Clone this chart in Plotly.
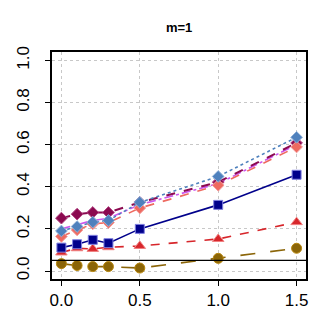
import plotly.graph_objects as go

x_vals = [0, 0.1, 0.2, 0.3, 0.5, 1.0, 1.5]

maroon = [0.251, 0.270, 0.278, 0.278, 0.326, 0.422, 0.608]
violet = [0.200, 0.220, 0.240, 0.250, 0.315, 0.415, 0.600]
salmon = [0.164, 0.195, 0.224, 0.230, 0.299, 0.407, 0.589]
steel = [0.190, 0.211, 0.232, 0.240, 0.326, 0.449, 0.635]
navy = [0.111, 0.127, 0.148, 0.132, 0.200, 0.314, 0.457]
red = [0.088, 0.108, 0.105, 0.113, 0.119, 0.152, 0.232]
olive = [0.035, 0.026, 0.021, 0.021, 0.014, 0.060, 0.108]

ref_level = 0.05
x_ticks = [0, 0.5, 1.0, 1.5]
x_tick_text = ["0.0", "0.5", "1.0", "1.5"]
y_ticks = [0, 0.2, 0.4, 0.6, 0.8, 1.0]
y_tick_text = ["0.0", "0.2", "0.4", "0.6", "0.8", "1.0"]

series = [
    ("olive", olive, "#8B6508", "#B8860B", "circle", 10, "longdash", "lines+markers", 1.6),
    ("red", red, "#D7262B", "#F08080", "triangle-up", 10, "dash", "lines+markers", 1.6),
    ("navy", navy, "#00008B", "#8080E0", "square", 9, "solid", "lines+markers", 1.6),
    ("violet", violet, "#CC55EE", "#DDA0FF", "diamond", 7, "dashdot", "lines", 1.6),
    ("maroon", maroon, "#8B0A50", "#B04080", "diamond", 9, "dash", "lines+markers", 2),
    ("salmon", salmon, "#EE6A60", "#F4A0A0", "diamond", 9, "dash", "lines+markers", 1.6),
    ("steel", steel, "#4F81BD", "#8FB0D8", "diamond", 9, "dot", "lines+markers", 1.6),
]

fig = go.Figure()
for name, ys, col, edge, sym, size, dash, mode, lw in series:
    fig.add_trace(go.Scatter(
        x=x_vals, y=ys, mode=mode, name=name,
        line=dict(color=col, width=lw, dash=dash),
        marker=dict(symbol=sym, size=size, color=col, line=dict(color=edge, width=1)),
        showlegend=False,
    ))

fig.add_shape(type="line", xref="paper", x0=0, x1=1, yref="y", y0=ref_level, y1=ref_level,
              line=dict(color="black", width=1.2))

axis_font = dict(family="Liberation Sans, Arial, sans-serif", size=17, color="black")

fig.update_xaxes(range=[-0.06, 1.56], tickvals=x_ticks, ticktext=x_tick_text,
                 showgrid=True, gridcolor="#C8C8C8", griddash="dot", gridwidth=1,
                 showline=True, linecolor="black", linewidth=1.5, mirror=True,
                 ticks="outside", ticklen=5, tickcolor="black", tickfont=axis_font,
                 ticklabelstandoff=0, zeroline=False, automargin=False)
fig.update_yaxes(range=[-0.038, 1.04], tickvals=y_ticks, ticktext=y_tick_text,
                 showgrid=True, gridcolor="#C8C8C8", griddash="dot", gridwidth=1,
                 showline=True, linecolor="black", linewidth=1.5, mirror=True,
                 ticks="outside", ticklen=5, tickcolor="black", tickfont=axis_font,
                 tickangle=-90, ticklabelstandoff=9, zeroline=False, automargin=False)

fig.update_layout(
    width=321, height=327,
    margin=dict(l=44, r=23, t=44, b=56),
    paper_bgcolor="white", plot_bgcolor="white",
    title=dict(text="<b>m=1</b>", x=0.533, xanchor="center", y=0.939, yanchor="middle",
               font=dict(family="Liberation Sans, Arial, sans-serif", size=13, color="black")),
)

fig.write_html("out.html")
